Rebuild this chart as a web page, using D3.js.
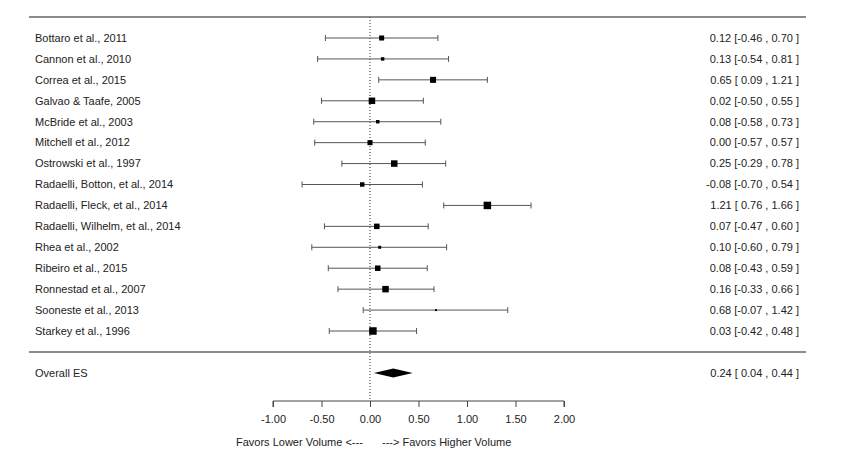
<!DOCTYPE html>
<html><head><meta charset="utf-8">
<script src="https://cdn.jsdelivr.net/npm/d3@7"></script>
<style>
html,body{margin:0;padding:0;background:#fff;}
svg text{font-family:"Liberation Sans",Arial,sans-serif;fill:#222;}
</style></head>
<body><svg id="c" width="850" height="463"></svg>
<script>
const studies = ["Bottaro et al., 2011","Cannon et al., 2010","Correa et al., 2015","Galvao & Taafe, 2005","McBride et al., 2003","Mitchell et al., 2012","Ostrowski et al., 1997","Radaelli, Botton, et al., 2014","Radaelli, Fleck, et al., 2014","Radaelli, Wilhelm, et al., 2014","Rhea et al., 2002","Ribeiro et al., 2015","Ronnestad et al., 2007","Sooneste et al., 2013","Starkey et al., 1996"];
const es    = [0.12,0.13,0.65,0.02,0.08,0.00,0.25,-0.08,1.21,0.07,0.10,0.08,0.16,0.68,0.03];
const lower = [-0.46,-0.54,0.09,-0.50,-0.58,-0.57,-0.29,-0.70,0.76,-0.47,-0.60,-0.43,-0.33,-0.07,-0.42];
const upper = [0.70,0.81,1.21,0.55,0.73,0.57,0.78,0.54,1.66,0.60,0.79,0.59,0.66,1.42,0.48];
const weights = [5.7,2.7,8.2,9.5,2.7,5.7,9.5,4.5,12.7,6.8,2.0,6.8,9.5,0.9,12.7];
const overallLabel = "Overall ES";
const overall = {es:0.24, lower:0.04, upper:0.44};
const xTicks = [-1,-0.5,0,0.5,1,1.5,2];
const xLabelLeft = "Favors Lower Volume <---";
const xLabelRight = "---> Favors Higher Volume";

const svg = d3.select("#c");
const x = d3.scaleLinear().domain([-1,2]).range([273,564]);
const y = d3.scalePoint().domain(studies).range([38,331]);
const size = d3.scaleSqrt().domain([0,d3.max(weights)]).range([0,7.5]);
const yOverall = 373, yAxis = 401;
const f2 = d3.format(".2f");
const fmt = v => f2(v).replace("\u2212","-");
const fmtCI = v => (v < 0 ? fmt(v) : " " + fmt(v));

svg.append("line").attr("x1",29).attr("x2",806).attr("y1",17).attr("y2",17)
  .attr("stroke","#666").attr("stroke-width",1.5);
svg.append("line").attr("x1",29).attr("x2",806).attr("y1",352).attr("y2",352)
  .attr("stroke","#666").attr("stroke-width",1.5);

svg.append("line").attr("x1",x(0)).attr("x2",x(0)).attr("y1",17).attr("y2",yAxis)
  .attr("stroke","#333").attr("stroke-width",1).attr("stroke-dasharray","1,2");

const data = studies.map((s,i)=>({s,es:es[i],lo:lower[i],hi:upper[i],w:weights[i]}));

const rows = svg.append("g").selectAll("g").data(data).join("g");
rows.append("line").attr("x1",d=>x(d.lo)).attr("x2",d=>x(d.hi))
  .attr("y1",d=>y(d.s)).attr("y2",d=>y(d.s)).attr("stroke","#555").attr("stroke-width",1);
rows.append("line").attr("x1",d=>x(d.lo)).attr("x2",d=>x(d.lo))
  .attr("y1",d=>y(d.s)-3).attr("y2",d=>y(d.s)+3).attr("stroke","#555");
rows.append("line").attr("x1",d=>x(d.hi)).attr("x2",d=>x(d.hi))
  .attr("y1",d=>y(d.s)-3).attr("y2",d=>y(d.s)+3).attr("stroke","#555");
rows.append("rect")
  .attr("x",d=>x(d.es)-size(d.w)/2).attr("y",d=>y(d.s)-size(d.w)/2)
  .attr("width",d=>size(d.w)).attr("height",d=>size(d.w)).attr("fill","#000");
rows.append("text").attr("x",35).attr("y",d=>y(d.s)).attr("dy","0.35em")
  .attr("font-size",11).text(d=>d.s);
rows.append("text").attr("x",799).attr("y",d=>y(d.s)).attr("dy","0.35em")
  .attr("text-anchor","end").attr("font-size",11).style("white-space","pre")
  .text(d=>`${fmt(d.es)} [${fmtCI(d.lo)} , ${fmt(d.hi)} ]`);

svg.append("text").attr("x",35).attr("y",yOverall).attr("dy","0.35em")
  .attr("font-size",11).text(overallLabel);
svg.append("path")
  .attr("d",`M${x(overall.lower)},${yOverall} L${x(overall.es)},${yOverall-4.5} L${x(overall.upper)},${yOverall} L${x(overall.es)},${yOverall+4.5} Z`)
  .attr("fill","#000");
svg.append("text").attr("x",799).attr("y",yOverall).attr("dy","0.35em")
  .attr("text-anchor","end").attr("font-size",11).style("white-space","pre")
  .text(`${fmt(overall.es)} [${fmtCI(overall.lower)} , ${fmt(overall.upper)} ]`);

const ax = svg.append("g").attr("transform",`translate(0,${yAxis})`)
  .call(d3.axisBottom(x).tickValues(xTicks).tickFormat(fmt).tickSize(6).tickPadding(8));
ax.select(".domain").attr("stroke","#444").attr("d",`M${x(-1)},6V0H${x(2)}V6`);
ax.selectAll(".tick line").attr("stroke","#444");
ax.selectAll(".tick text").attr("font-size",11).attr("font-family","Liberation Sans, Arial, sans-serif").attr("fill","#222");

svg.append("text").attr("x",236).attr("y",446).attr("font-size",11).style("white-space","pre").text(xLabelLeft);
svg.append("text").attr("x",382).attr("y",446).attr("font-size",11).style("white-space","pre").text(xLabelRight);
</script></body></html>
